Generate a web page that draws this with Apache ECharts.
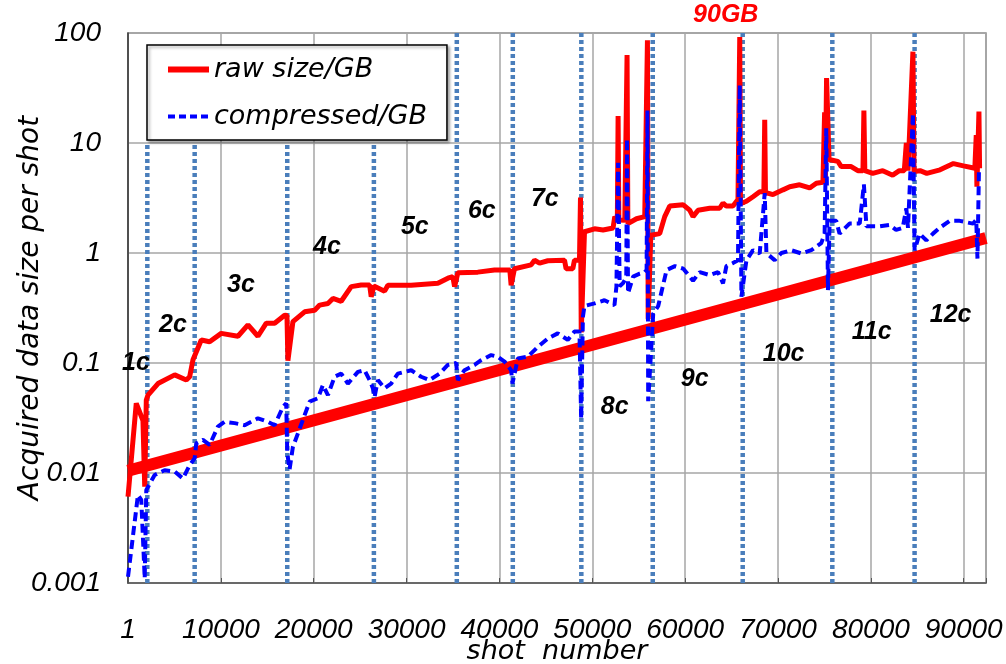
<!DOCTYPE html>
<html>
<head>
<meta charset="utf-8">
<script src="https://cdn.jsdelivr.net/npm/echarts@6/dist/echarts.min.js"></script>
<style>html,body{margin:0;padding:0;background:#fff;}#c{width:1006px;height:664px;}</style>
</head>
<body>
<div id="c"></div>
<script>
// ---- data ----
const xTickLabels = ['1','10000','20000','30000','40000','50000','60000','70000','80000','90000'];
const yTickLabels = ['0.001','0.01','0.1','1','10','100'];

const rawX = [1,890,1610,1800,1970,2150,3230,5030,6280,6640,7000,7890,8790,10040,11840,12920,13990,14890,15790,16870,17120,17220,17760,19020,20100,20640,21530,22070,22960,24040,25110,26020,26190,26480,27630,27990,30490,33370,34450,34980,35170,35520,37670,39470,41120,41260,41620,43410,43780,44320,45210,47010,47180,47900,48080,48620,48730,48810,49160,50240,51160,52240,52420,52700,52780,52860,53500,53660,53745,53830,54760,55650,55850,55940,56020,56300,57260,57800,58340,59770,60490,60850,61390,62650,63720,64080,64440,65150,65690,65800,65880,65960,66600,67310,68030,68480,68570,68650,69460,70540,71260,72330,73410,74130,74840,74950,75020,75100,75230,75400,75500,75740,76450,76810,77880,78600,79150,79250,79350,80200,81280,82350,83070,83600,83820,84000,84530,84650,85300,86020,87450,88890,89970,91200,91350,91420,91640,91710];
const rawY = [0.0061,0.043,0.030,0.0075,0.046,0.051,0.065,0.078,0.070,0.075,0.107,0.162,0.156,0.186,0.175,0.222,0.175,0.230,0.230,0.272,0.27,0.105,0.238,0.292,0.302,0.336,0.348,0.386,0.364,0.495,0.512,0.512,0.40,0.50,0.45,0.51,0.51,0.53,0.59,0.61,0.495,0.66,0.67,0.70,0.70,0.51,0.72,0.78,0.86,0.81,0.85,0.86,0.72,0.72,0.86,0.86,3.2,0.19,1.56,1.66,1.62,1.69,2.14,2.0,17.6,2.0,1.98,1.9,63,1.85,2.05,2.14,2.1,86,0.25,1.45,1.50,2.14,2.67,2.75,2.45,2.14,2.45,2.55,2.55,2.85,2.67,2.67,3.06,3.1,92,2.8,2.95,3.25,3.6,3.6,16.3,3.55,3.4,3.75,4.0,4.17,3.9,4.3,4.4,4.4,19,4.5,39,38,7.0,7.0,6.8,6.1,6.1,5.6,5.6,19.7,5.6,5.3,5.6,5.1,5.6,5.6,10,5.6,67.6,5.5,5.6,5.3,5.7,6.5,6.2,5.9,11.8,4.0,19.3,5.9];

const compX = [1,1070,1430,1800,1970,2870,3950,5030,5920,6640,7180,7350,8070,8790,9680,10400,11480,12560,13990,15070,15790,16690,17040,17150,17400,17760,18300,18830,19560,20450,20990,21530,22250,22960,23680,24760,25470,26010,26370,26550,26910,27630,28340,29060,30500,31570,32470,33540,34440,35340,35520,36240,37320,38030,39110,39830,40550,41260,41400,41980,43050,44130,45210,46280,47360,48080,48620,48800,48990,49160,50240,51310,52390,52600,52780,52950,53300,53660,53745,53850,54400,55110,55650,55850,55940,56020,56560,57100,58000,58900,59800,60850,61570,62650,63540,64080,64440,65150,65690,65880,66060,66600,67310,68030,68570,68750,69640,70360,71430,72510,73590,74660,75020,75200,75380,75560,76270,76630,77700,78800,79250,79520,80920,82000,82720,83430,83820,84000,84530,84710,85250,85970,86690,87400,88480,89560,91000,91350,91480,91640,91710];
const compY = [0.00114,0.0063,0.0057,0.0011,0.007,0.0096,0.0106,0.0103,0.0089,0.0118,0.0136,0.0186,0.020,0.018,0.0264,0.0292,0.0284,0.0272,0.0314,0.0292,0.0272,0.040,0.043,0.0152,0.0108,0.0173,0.0229,0.0304,0.0446,0.0478,0.063,0.051,0.075,0.080,0.065,0.083,0.086,0.070,0.059,0.049,0.070,0.059,0.065,0.080,0.086,0.075,0.070,0.080,0.096,0.100,0.070,0.086,0.096,0.106,0.118,0.114,0.103,0.086,0.065,0.110,0.114,0.140,0.167,0.186,0.162,0.193,0.193,0.031,0.264,0.33,0.348,0.372,0.336,0.495,6.6,0.5,0.53,0.6,11,0.43,0.61,0.65,0.67,0.7,19.7,0.045,0.28,0.33,0.70,0.76,0.72,0.56,0.67,0.63,0.67,0.53,0.76,0.81,0.86,33.5,0.40,0.86,1.06,0.99,3.5,1.0,0.86,1.0,1.06,0.99,1.06,1.23,1.50,13.6,0.46,1.96,1.96,1.50,1.85,1.85,4.2,1.75,1.75,1.80,1.62,1.69,2.55,1.69,18.6,1.06,1.5,1.30,1.50,1.69,1.96,1.96,1.85,2.0,0.89,5.6,5.6];

const trendX = [0, 92400];
const trendY = [0.0105, 1.37];

const boundaryX = [2080,7180,17150,26480,35410,41440,48820,56510,66200,75850,84710];
const boundaryTop = [10,10,10,10,100,100,100,100,100,100,100];

const annoText = ['1c','2c','3c','4c','5c','6c','7c','8c','9c','10c','11c','12c'];
const annoX = [860,4840,12160,21420,30890,38100,44890,52420,61030,70610,80090,88590];
const annoY = [0.1,0.221,0.512,1.13,1.72,2.41,3.10,0.0398,0.0716,0.121,0.191,0.273];

const peakText = ['90GB'];
const peakX = [64370];
const peakY = [146];

const seriesNames = ['raw size/GB','compressed/GB'];

// ---- chart ----
const FONT = "'Liberation Sans', Arial, sans-serif";
const WFONT = "'DejaVu Sans', sans-serif";
const chart = echarts.init(document.getElementById('c'), null, {renderer:'canvas'});

const zip = (xs, ys) => xs.map((x, i) => [x, ys[i]]);

const boundarySeries = boundaryX.map((x, i) => ({
  type: 'line', name: 'b' + i, z: 1, silent: true, symbol: 'none',
  data: [[x, 0.001], [x, boundaryTop[i]]],
  lineStyle: {color: '#4a7ebb', width: 4.5, type: [4, 3], cap: 'butt'}
}));

const labelStyle = {fontFamily: FONT, fontStyle: 'italic', fontWeight: 'bold', fontSize: 25,
  textBorderWidth: 0, align: 'center', verticalAlign: 'middle'};

const option = {
  animation: false,
  grid: {left: 128, right: 20, top: 33, bottom: 81, containLabel: false, outerBoundsMode: 'none',
         show: true, borderColor: '#8c8c8c', borderWidth: 1.5},
  legend: {
    data: [
      {name: seriesNames[0], lineStyle: {width: 6, color: '#ff0000'}},
      {name: seriesNames[1], lineStyle: {width: 4, color: '#0000ff', type: [7, 4]}}
    ],
    orient: 'vertical', left: 147, top: 45,
    padding: [11, 20, 10, 18], itemGap: 20, itemWidth: 41, itemHeight: 14,
    borderColor: '#000', borderWidth: 1.5, backgroundColor: '#fff',
    shadowColor: 'rgba(0,0,0,0.35)', shadowBlur: 3, shadowOffsetX: 2, shadowOffsetY: 2,
    itemStyle: {opacity: 0},
    textStyle: {fontFamily: WFONT, fontStyle: 'italic', fontSize: 27, color: '#000'}
  },
  xAxis: {
    type: 'value', min: 0, max: 92400, interval: 10000,
    name: 'shot  number', nameLocation: 'middle', nameGap: 55, nameMoveOverlap: false,
    nameTextStyle: {fontFamily: WFONT, fontStyle: 'italic', fontSize: 27, color: '#000'},
    axisLine: {lineStyle: {color: '#555', width: 1.5}},
    axisTick: {show: true, inside: true, length: 5, lineStyle: {color: '#555'}},
    splitLine: {show: true, lineStyle: {color: '#a6a6a6', width: 1.5}},
    axisLabel: {
      margin: 33, fontFamily: FONT, fontStyle: 'italic', fontSize: 28, color: '#000',
      formatter: v => (v % 10000 === 0 ? xTickLabels[v / 10000] : '')
    }
  },
  yAxis: {
    type: 'log', logBase: 10, min: 0.001, max: 100,
    name: 'Acquired data size per shot', nameLocation: 'middle', nameGap: 83, nameMoveOverlap: false,
    nameTextStyle: {fontFamily: WFONT, fontStyle: 'italic', fontSize: 28, color: '#000'},
    axisLine: {show: true, lineStyle: {color: '#333', width: 1.5}},
    axisTick: {show: false},
    splitLine: {show: true, lineStyle: {color: '#a6a6a6', width: 1.5}},
    axisLabel: {
      margin: 27, fontFamily: FONT, fontStyle: 'italic', fontSize: 28, color: '#000',
      formatter: v => yTickLabels[Math.round(Math.log10(v)) + 3]
    }
  },
  series: boundarySeries.concat([
    {type: 'line', name: 'trend', z: 2, silent: true, symbol: 'none',
     data: zip(trendX, trendY), lineStyle: {color: '#ff0000', width: 12, cap: 'butt'}},
    {type: 'line', name: seriesNames[0], z: 3, symbol: 'none',
     data: zip(rawX, rawY), lineStyle: {color: '#ff0000', width: 5}, itemStyle: {color: '#ff0000'}},
    {type: 'line', name: seriesNames[1], z: 4, symbol: 'none',
     data: zip(compX, compY), lineStyle: {color: '#0000ff', width: 4, type: [9, 5]}, itemStyle: {color: '#0000ff'}},
    {type: 'scatter', name: 'anno', z: 6, silent: true, clip: false, symbolSize: 0,
     itemStyle: {opacity: 1},
     data: annoX.map((x, i) => ({value: [x, annoY[i]], name: annoText[i]})),
     label: Object.assign({show: true, position: [0, 0], formatter: p => p.name, color: '#000'}, labelStyle)},
    {type: 'scatter', name: 'peak', z: 6, silent: true, clip: false, symbolSize: 0,
     itemStyle: {opacity: 1},
     data: peakX.map((x, i) => ({value: [x, peakY[i]], name: peakText[i]})),
     label: Object.assign({show: true, position: [0, 0], formatter: p => p.name, color: '#ff0000'}, labelStyle)}
  ])
};
chart.setOption(option);
</script>
</body>
</html>
